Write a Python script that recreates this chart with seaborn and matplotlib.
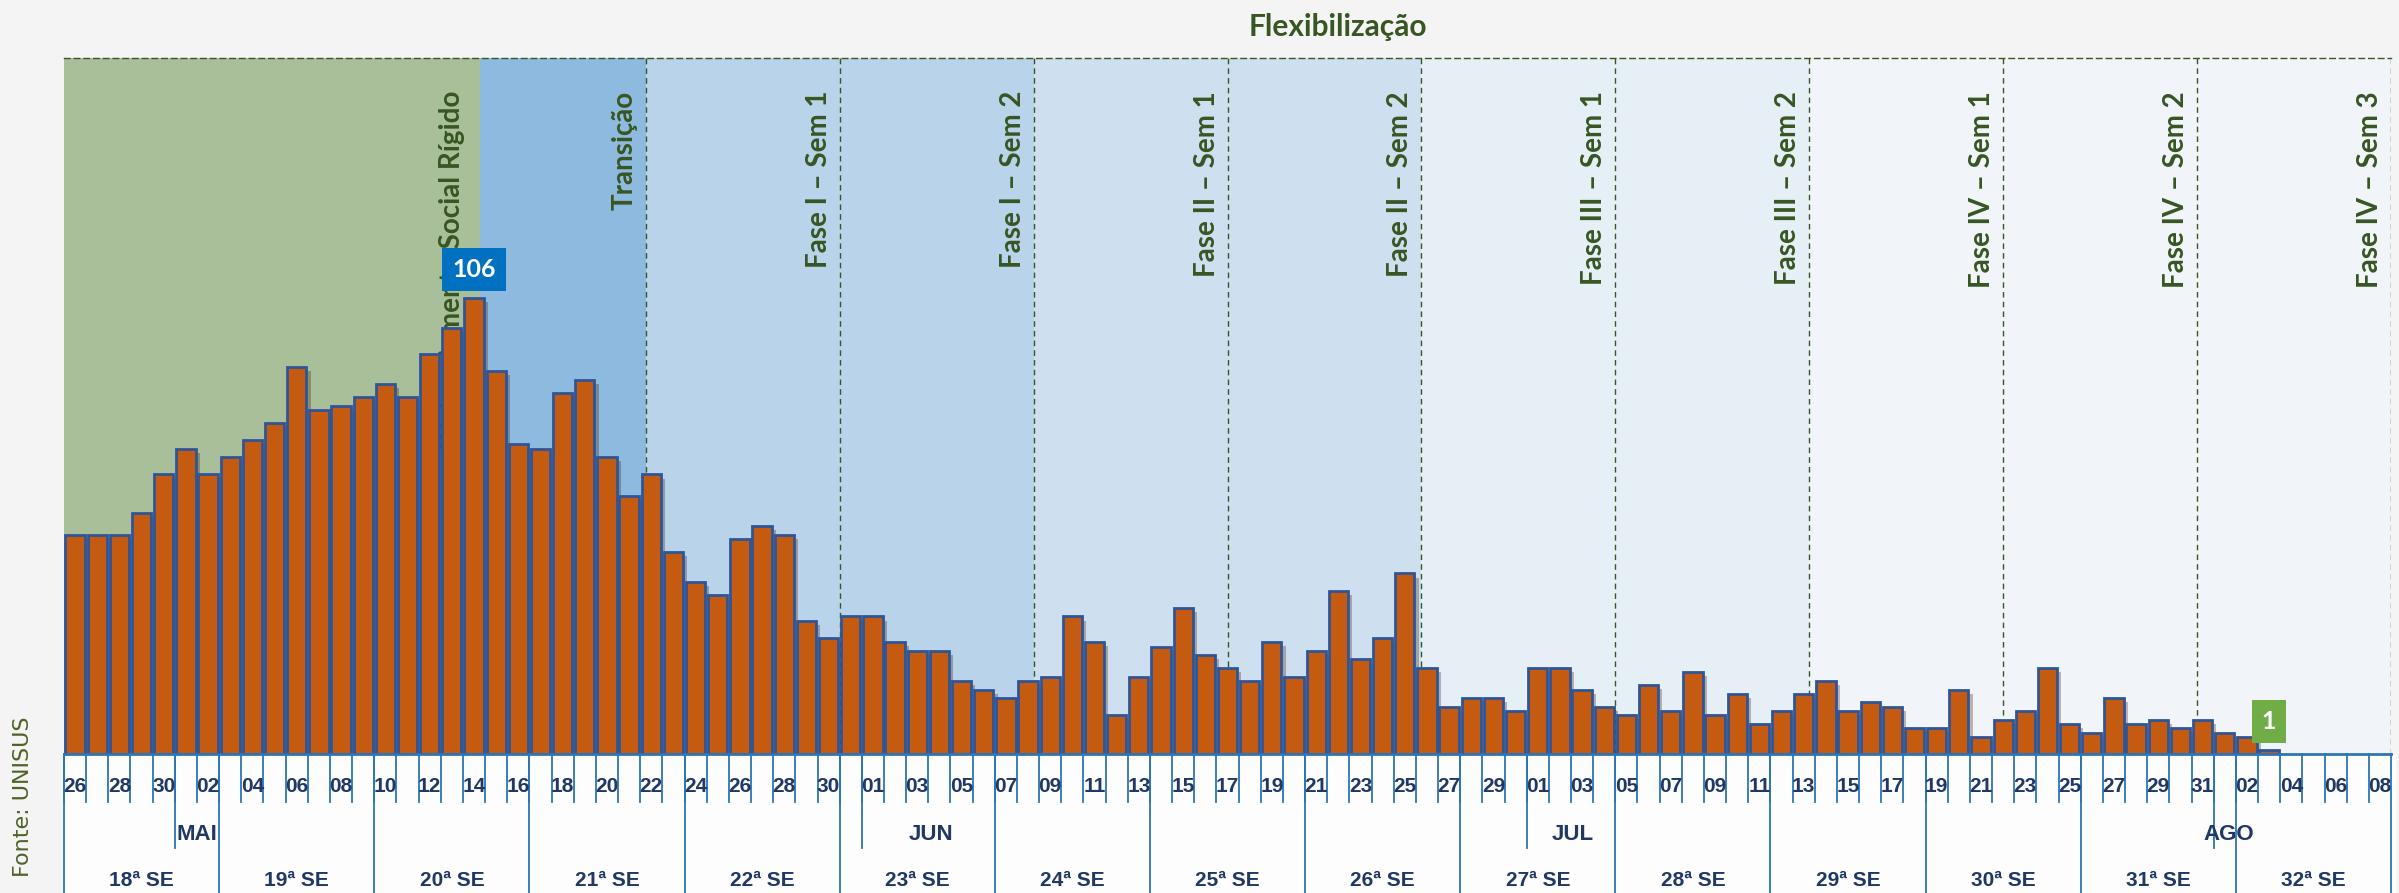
import matplotlib
matplotlib.use("Agg")
import matplotlib.pyplot as plt
import matplotlib.patheffects as pe
import matplotlib.transforms as mtransforms
from matplotlib.patches import Rectangle
from matplotlib import font_manager
import seaborn as sns
import pandas as pd

# casos diarios, 26/04 a 03/08
daily_cases = [51, 51, 51, 56, 65, 71, 65, 69, 73, 77,
               90, 80, 81, 83, 86, 83, 93, 99, 106, 89,
               72, 71, 84, 87, 69, 60, 65, 47, 40, 37,
               50, 53, 51, 31, 27, 32, 32, 26, 24, 24,
               17, 15, 13, 17, 18, 32, 26, 9, 18, 25,
               34, 23, 20, 17, 26, 18, 24, 38, 22, 27,
               42, 20, 11, 13, 13, 10, 20, 20, 15, 11,
               9, 16, 10, 19, 9, 14, 7, 10, 14, 17,
               10, 12, 11, 6, 6, 15, 4, 8, 10, 20,
               7, 5, 13, 7, 8, 6, 8, 5, 4, 1]
first_day = "2020-04-26"
last_day = "2020-08-08"
months = ["MAI", "JUN", "JUL", "AGO"]
weeks = [f"{n}ª SE" for n in range(18, 33)]
phases = ["Distanciamento Social Rígido", "Transição",
          "Fase I – Sem 1", "Fase I – Sem 2",
          "Fase II – Sem 1", "Fase II – Sem 2",
          "Fase III – Sem 1", "Fase III – Sem 2",
          "Fase IV – Sem 1", "Fase IV – Sem 2", "Fase IV – Sem 3"]

# layout (posicoes em unidades de dia)
phase_edges = [-0.5, 18.25, 25.75, 34.5, 43.25, 52.0, 60.75, 69.5,
               78.25, 87.0, 95.75, 104.5]
phase_colors = ["#A9BF99", "#8FBADF", "#B8D3EA", "#B8D3EA", "#CEE0EF",
                "#CEE0EF", "#E6EEF6", "#E6EEF6", "#F1F5F9", "#F1F5F9",
                "#F1F5F9"]
month_shift = [0.5, 2.6, 1.6, 0.2]

W, H = 2399, 893
installed = {f.name for f in font_manager.fontManager.ttflist}
narrow = "Liberation Sans Narrow" if "Liberation Sans Narrow" in installed else "Liberation Sans"
label_font = ["Lato", "DejaVu Sans"]

navy = "#1F3864"
axis_blue = "#2E75B6"
green_txt = "#375623"

days = pd.date_range(first_day, last_day, freq="D")
keys = list(days.strftime("%Y-%m-%d"))
df = pd.DataFrame({"dia": keys[:len(daily_cases)], "casos": daily_cases})

fig = plt.figure(figsize=(W / 100, H / 100), dpi=100)
fig.patch.set_facecolor("#F4F4F4")
fig.patches.append(Rectangle((64 / W, 0), (2396 - 64) / W, 139 / H,
                             transform=fig.transFigure, fc="white",
                             alpha=0.85, ec="none", zorder=-1))

ax = fig.add_axes([64 / W, 139 / H, 2327 / W, 696 / H])
ax.set_facecolor("none")

# faixas das fases
for k, name in enumerate(phases):
    ax.axvspan(phase_edges[k], phase_edges[k + 1], color=phase_colors[k],
               lw=0, zorder=0)
for e in phase_edges[2:]:
    ax.axvline(e, color=green_txt, lw=1, ls=(0, (4, 3)), zorder=1)

sns.barplot(data=df, x="dia", y="casos", order=keys, color="#C55A11",
            saturation=1, edgecolor="#2F5597", linewidth=2, width=0.87,
            ax=ax, zorder=3)
for bar in ax.containers[0]:
    bar.set_path_effects([pe.SimplePatchShadow(offset=(3, -3), alpha=0.3),
                          pe.Normal()])

ax.set_xlim(-0.5, len(keys) - 0.5)
ax.set_ylim(0, 696 / 4.3)
ax.set_xticks([])
ax.set_yticks([])
ax.set_xlabel("")
ax.set_ylabel("")
for s in ["left", "right", "bottom"]:
    ax.spines[s].set_visible(False)
ax.spines["top"].set_color(green_txt)
ax.spines["top"].set_linestyle((0, (4, 3)))
ax.spines["top"].set_linewidth(1)

# rotulos das fases
for k, name in enumerate(phases):
    dx = -15 if k == 0 else -8
    ax.annotate(name, xy=(phase_edges[k + 1], 1),
                xycoords=("data", "axes fraction"), xytext=(dx, -33),
                textcoords="offset pixels", rotation=90, ha="right",
                va="top", fontsize=20, fontweight="bold", color=green_txt,
                family=label_font, zorder=2)

# destaques: maximo e ultimo valor
peak = daily_cases.index(max(daily_cases))
last = len(daily_cases) - 1
for i, c in [(peak, "#0070C0"), (last, "#70AD47")]:
    ax.annotate(str(daily_cases[i]), xy=(i, daily_cases[i]),
                xytext=(0, 17), textcoords="offset pixels", ha="center",
                va="bottom", fontsize=18, fontweight="bold", color="white",
                family=label_font, zorder=5,
                bbox=dict(boxstyle="square,pad=0.4", fc=c, ec="none"))

# eixo x em tres niveis
tr = mtransforms.blended_transform_factory(ax.transData, fig.transFigure)
yb = 139 / H
ax.plot([-0.5, len(keys) - 0.5], [yb, yb], color=axis_blue, lw=2,
        transform=tr, clip_on=False, zorder=4)
for i, d in enumerate(days):
    ax.plot([i - 0.5, i - 0.5], [yb, 91 / H], color=axis_blue, lw=1.3,
            transform=tr, clip_on=False)
    if i % 2 == 0:
        ax.text(i, 106 / H, d.strftime("%d"), transform=tr, ha="center",
                va="center", fontsize=15, fontweight="bold", color=navy,
                family=[narrow, "DejaVu Sans"])
    if d.day == 1:
        ax.plot([i - 0.5, i - 0.5], [yb, 45 / H], color=axis_blue, lw=1.3,
                transform=tr, clip_on=False)
    if i % 7 == 0:
        ax.plot([i - 0.5, i - 0.5], [yb, 0], color=axis_blue, lw=1.3,
                transform=tr, clip_on=False)
ax.plot([len(keys) - 0.5] * 2, [yb, 0], color=axis_blue, lw=1.3,
        transform=tr, clip_on=False)

month_starts = [i for i, d in enumerate(days) if d.day == 1]
for m, i, sh in zip(months, month_starts, month_shift):
    ax.text(i + sh, 59 / H, m, transform=tr, ha="center", va="center",
            fontsize=16, fontweight="bold", color=navy,
            family=[narrow, "DejaVu Sans"])
for k, w in enumerate(weeks):
    ax.text(7 * k + 3, 13 / H, w, transform=tr, ha="center", va="center",
            fontsize=15, fontweight="bold", color=navy,
            family=[narrow, "DejaVu Sans"])

fig.text(1338 / W, 1 - 27 / H, "Flexibilização", ha="center", va="center",
         fontsize=21.5, fontweight="bold", color=green_txt, family=label_font)
fig.text(23 / W, 1 - 797 / H, "Fonte: UNISUS", rotation=90, ha="center",
         va="center", fontsize=16, color="#4F6228", family="DejaVu Sans")

fig.savefig("out.png", dpi=100, facecolor=fig.get_facecolor())
